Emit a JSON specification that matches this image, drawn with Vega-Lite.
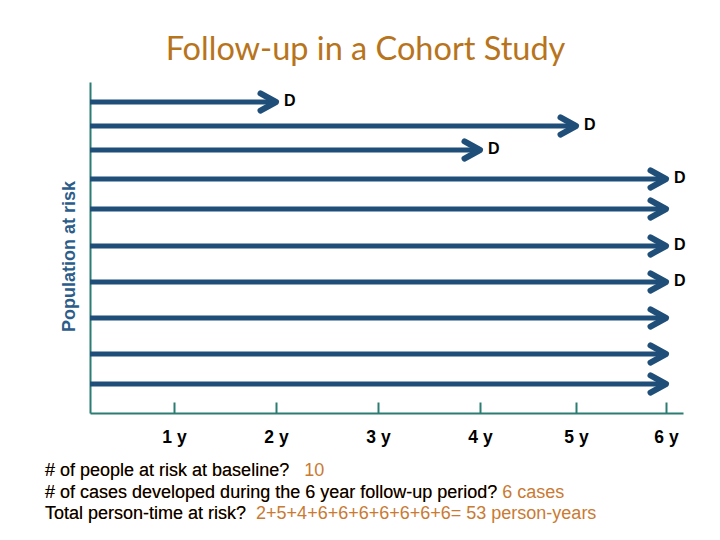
{
  "$schema": "https://vega.github.io/schema/vega-lite/v6.json",
  "width": 593,
  "height": 331,
  "autosize": {"type": "none"},
  "padding": {"left": 90, "top": 82, "right": 37, "bottom": 127},
  "background": "white",
  "config": {"view": {"stroke": null}},
  "title": {
    "text": "Follow-up in a Cohort Study",
    "font": "Lato",
    "fontSize": 32.5,
    "fontWeight": "normal",
    "color": "#B8741C",
    "anchor": "middle",
    "frame": "group",
    "dx": -21,
    "offset": 16
  },
  "datasets": {
    "people": [
      {"person": 1, "start": 0, "end": 2, "event": true},
      {"person": 2, "start": 0, "end": 5, "event": true},
      {"person": 3, "start": 0, "end": 4, "event": true},
      {"person": 4, "start": 0, "end": 6, "event": true},
      {"person": 5, "start": 0, "end": 6, "event": false},
      {"person": 6, "start": 0, "end": 6, "event": true},
      {"person": 7, "start": 0, "end": 6, "event": true},
      {"person": 8, "start": 0, "end": 6, "event": false},
      {"person": 9, "start": 0, "end": 6, "event": false},
      {"person": 10, "start": 0, "end": 6, "event": false}
    ],
    "notes": [
      {"line": 1, "question": "# of people at risk at baseline?", "answer": "10", "gap": "\u00a0\u00a0\u00a0"},
      {"line": 2, "question": "# of cases developed during the 6 year follow-up period?", "answer": "6 cases", "gap": "\u00a0"},
      {"line": 3, "question": "Total person-time at risk?", "answer": "2+5+4+6+6+6+6+6+6+6= 53 person-years", "gap": "\u00a0\u00a0"}
    ]
  },
  "layer": [
    {
      "data": {"name": "people"},
      "encoding": {
        "y": {
          "field": "person",
          "type": "quantitative",
          "scale": {
            "domain": [0, 1, 2, 3, 4, 5, 6, 7, 8, 9, 10, 11],
            "range": [0, 20, 44, 68, 97, 127, 164, 200, 236, 272, 302, 331],
            "zero": false,
            "nice": false
          },
          "axis": {
            "title": "Population at risk",
            "titleFont": "Liberation Sans",
            "titleFontSize": 18,
            "titleFontWeight": "bold",
            "titleColor": "#2C5C8A",
            "titlePadding": 12,
            "titleY": 174,
            "labels": false,
            "ticks": false,
            "grid": false,
            "domainColor": "#2B7C72",
            "domainWidth": 2
          }
        }
      },
      "layer": [
        {
          "mark": {"type": "rule", "color": "#1F4E79", "strokeWidth": 5, "strokeCap": "butt"},
          "encoding": {
            "x": {
              "field": "start",
              "type": "quantitative",
              "scale": {
                "domain": [0, 1, 2, 3, 4, 5, 6, 6.19],
                "range": [0, 84, 186, 288, 390, 486, 576, 593],
                "zero": false,
                "nice": false
              },
              "axis": {
                "title": null,
                "values": [1, 2, 3, 4, 5, 6],
                "labelExpr": "datum.value + ' y'",
                "labelFont": "Liberation Sans",
                "labelFontSize": 17.5,
                "labelFontWeight": "bold",
                "labelColor": "#000000",
                "labelPadding": 26,
                "tickSize": -11,
                "tickWidth": 2,
                "tickColor": "#2B7C72",
                "domainColor": "#2B7C72",
                "domainWidth": 2,
                "grid": false
              }
            },
            "x2": {"field": "end"}
          }
        },
        {
          "mark": {
            "type": "point",
            "shape": "M -1 -0.55 L 0 0 L -1 0.55",
            "size": 960,
            "filled": false,
            "opacity": 1,
            "stroke": "#1F4E79",
            "strokeWidth": 6,
            "strokeCap": "round",
            "strokeJoin": "round"
          },
          "encoding": {
            "x": {"field": "end", "type": "quantitative"}
          }
        },
        {
          "transform": [{"filter": "datum.event"}],
          "mark": {
            "type": "text",
            "text": "D",
            "font": "Liberation Sans",
            "fontSize": 16,
            "fontWeight": "bold",
            "color": "#000000",
            "align": "left",
            "baseline": "middle",
            "dx": 8,
            "dy": -1
          },
          "encoding": {
            "x": {"field": "end", "type": "quantitative"}
          }
        }
      ]
    },
    {
      "data": {"name": "notes"},
      "encoding": {
        "x": {"datum": 0, "type": "quantitative"},
        "y": {
          "field": "line",
          "type": "ordinal",
          "scale": {"range": [389, 432], "padding": 0},
          "axis": null
        }
      },
      "layer": [
        {
          "mark": {
            "type": "text",
            "text": {"expr": "datum.question + datum.gap + datum.answer"},
            "font": "Liberation Sans",
            "fontSize": 18,
            "color": "#C97A33",
            "align": "left",
            "baseline": "middle",
            "dx": -45
          }
        },
        {
          "mark": {
            "type": "text",
            "font": "Liberation Sans",
            "fontSize": 18,
            "color": "#000000",
            "align": "left",
            "baseline": "middle",
            "dx": -45
          },
          "encoding": {"text": {"field": "question"}}
        }
      ]
    }
  ],
  "resolve": {"scale": {"y": "independent"}}
}
